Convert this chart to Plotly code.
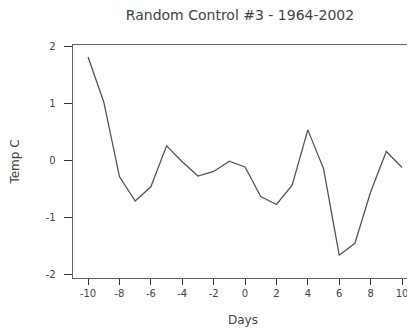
import plotly.graph_objects as go

days = list(range(-10, 11))
temps = [1.81, 1.02, -0.29, -0.72, -0.47, 0.25, -0.03, -0.28, -0.20, -0.02, -0.12,
         -0.64, -0.78, -0.44, 0.53, -0.15, -1.67, -1.46, -0.56, 0.15, -0.13]
x_ticks = [-10, -8, -6, -4, -2, 0, 2, 4, 6, 8, 10]
y_ticks = [-2, -1, 0, 1, 2]

fig = go.Figure(go.Scatter(x=days, y=temps, mode="lines",
                           line=dict(color="#555555", width=1.3)))

# page body has an 8px margin, so the figure is sized/offset to compensate
fig.update_layout(
    width=407, height=323,
    margin=dict(l=65, r=2, t=37, b=53),
    paper_bgcolor="white", plot_bgcolor="white",
    showlegend=False,
    font=dict(family="DejaVu Sans", color="#444444", size=10),
    title=dict(text="Random Control #3 - 1964-2002", x=0.57, xanchor="center",
               y=0.978, yanchor="middle", font=dict(size=14, color="#444444")),
)
fig.update_xaxes(range=[-10.96, 10.7], tickvals=x_ticks, ticktext=[str(v) for v in x_ticks],
                 showgrid=False, zeroline=False, showline=True, linecolor="#666666",
                 linewidth=1, mirror=True, ticks="outside", ticklen=6, tickwidth=1.2,
                 tickcolor="#333333",
                 title=dict(text="Days", font=dict(size=12), standoff=17))
fig.update_yaxes(range=[-2.07, 2.02], tickvals=y_ticks,
                 ticktext=[str(v) + "\u00a0\u00a0" for v in y_ticks],
                 showgrid=False, zeroline=False, showline=True, linecolor="#666666",
                 linewidth=1, ticks="outside", ticklen=8, tickwidth=1.2,
                 tickcolor="#333333",
                 title=dict(text="Temp C", font=dict(size=12), standoff=26))

fig.write_html("out.html")
